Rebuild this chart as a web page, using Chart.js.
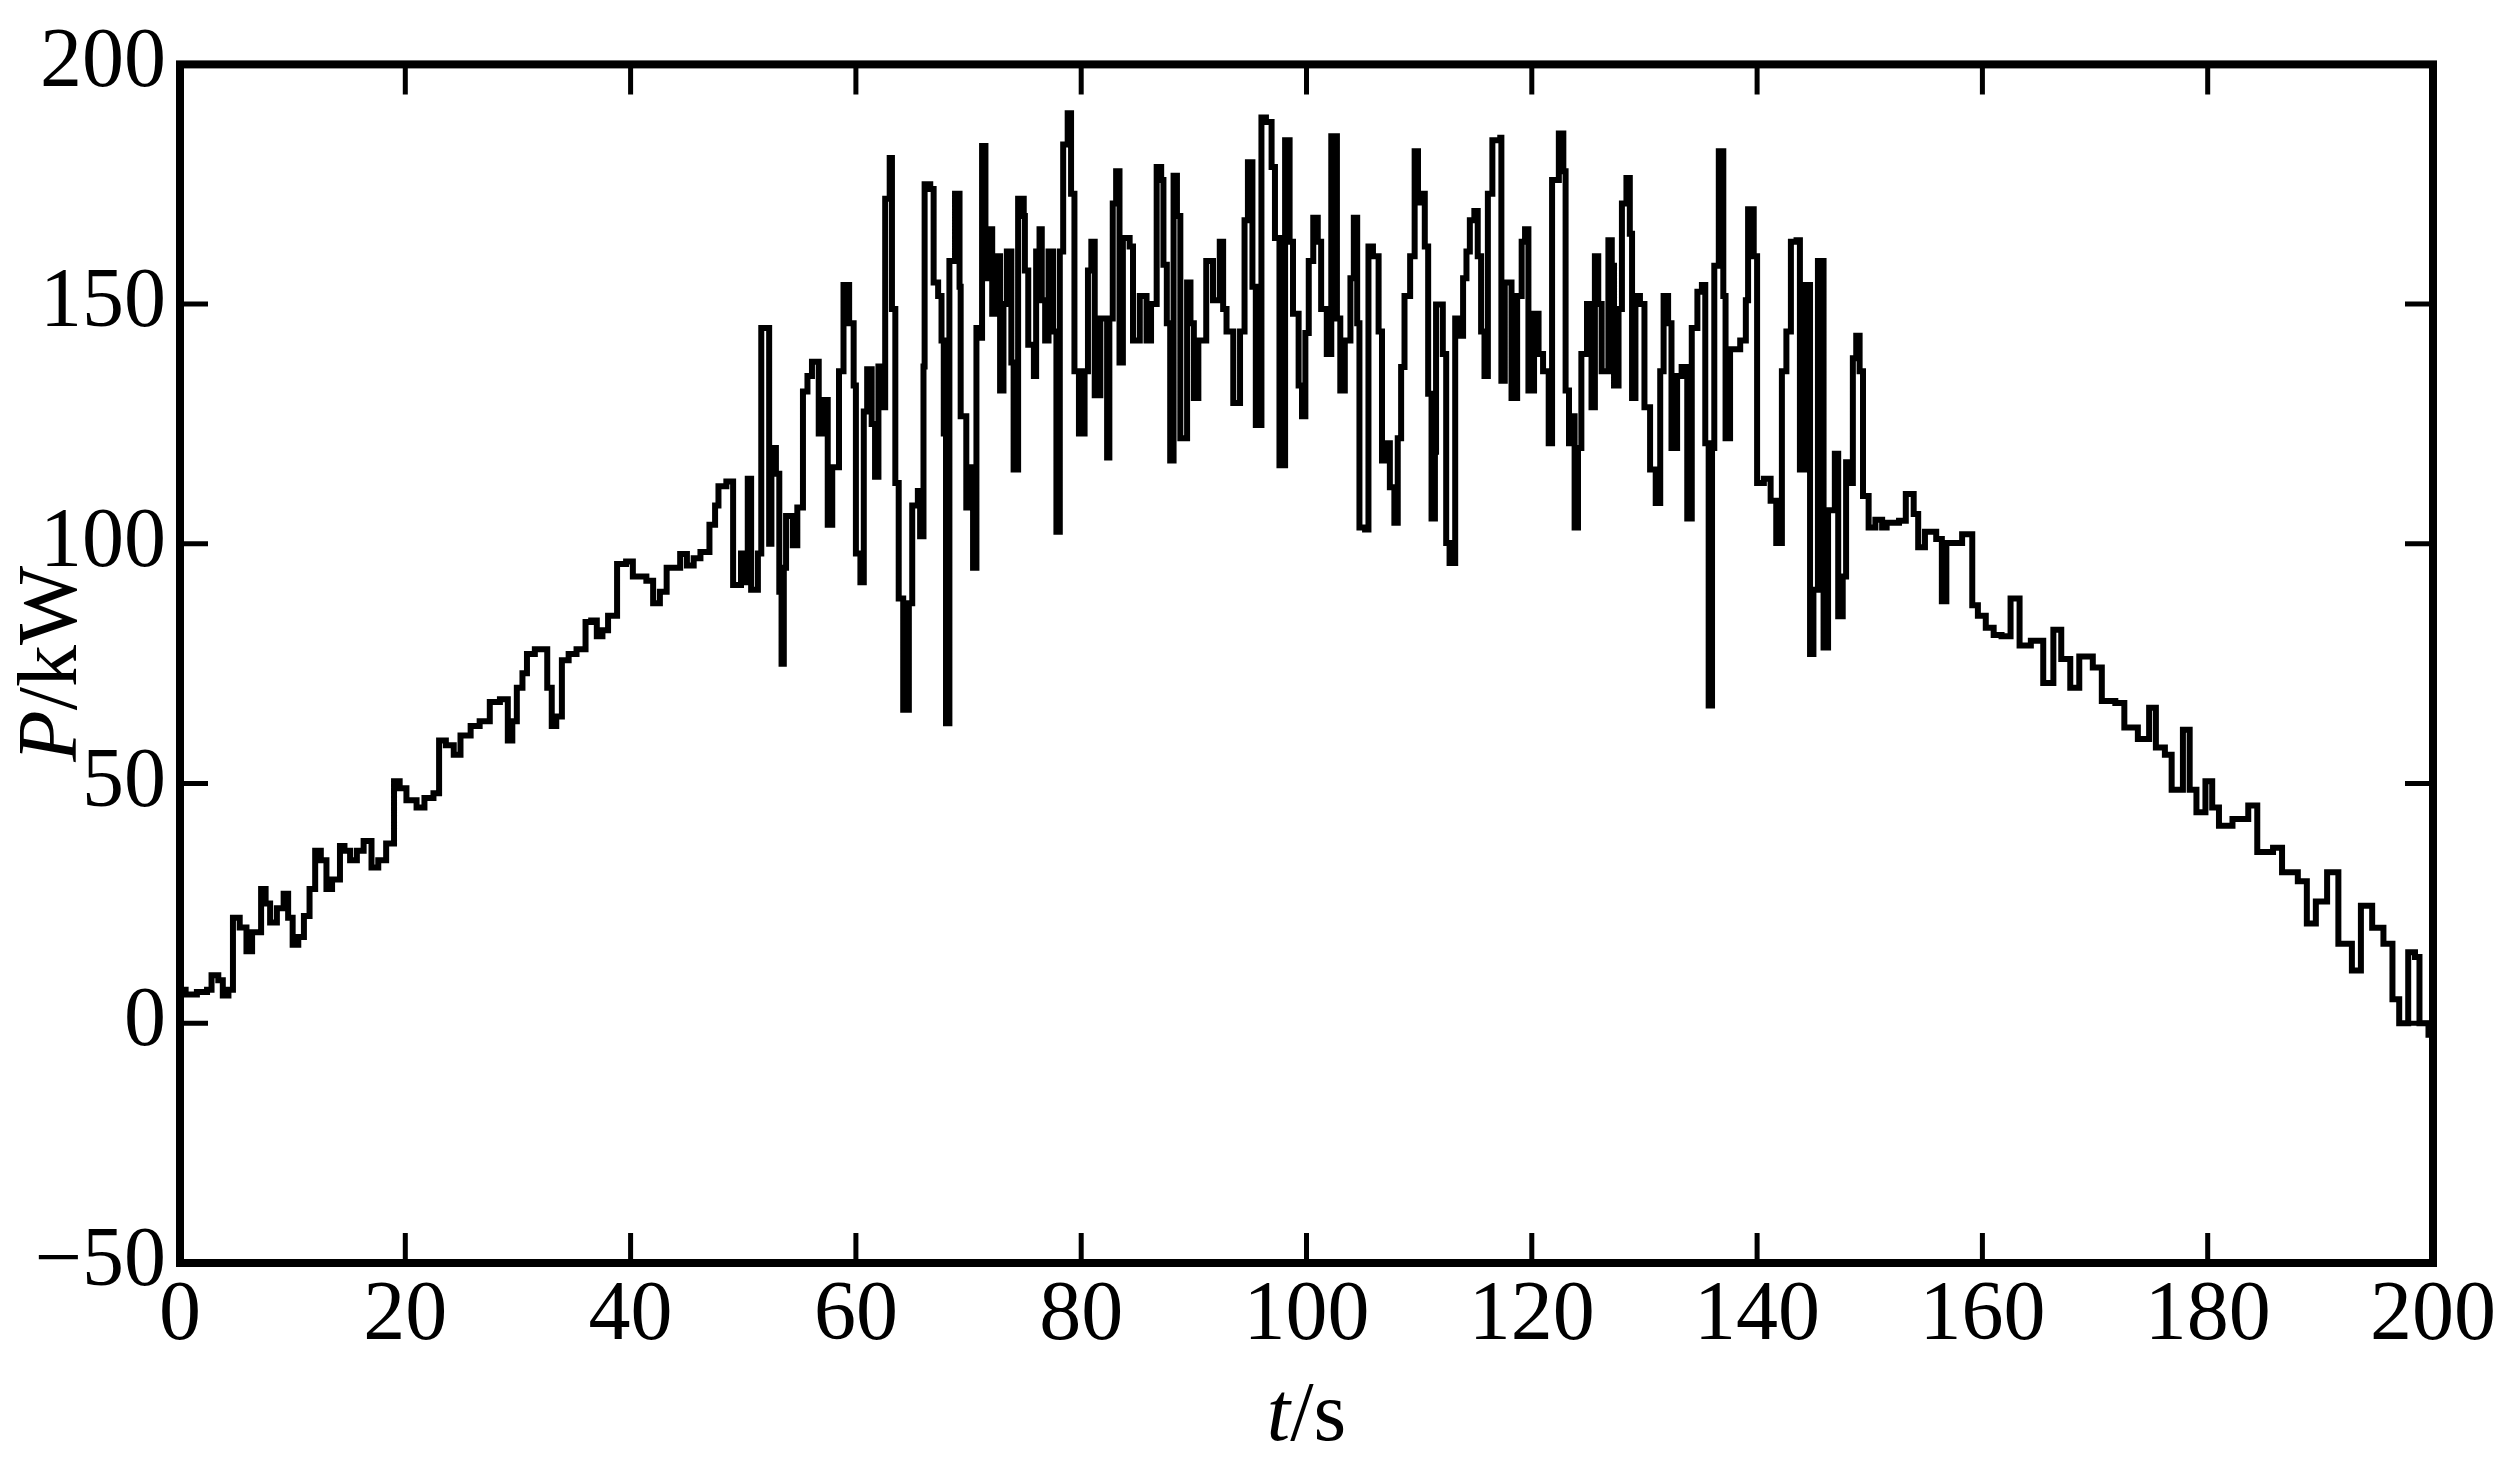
<!DOCTYPE html>
<html>
<head>
<meta charset="utf-8">
<script src="https://cdn.jsdelivr.net/npm/chart.js@4.4.1/dist/chart.umd.min.js"></script>
<style>
	body { margin: 0; background: #fff; }
	#wrap { width: 2520px; height: 1460px; }
</style>
</head>
<body>
<div id="wrap"><canvas id="graph"></canvas></div>
<script>
// time axis (s) and power (kW)
const timeS = [
	0, 0.5, 1.5, 2.4, 2.8, 3.4, 3.8, 4.3, 4.7, 5.3, 5.9, 6.4, 7.2, 7.6, 8, 8.6, 9.2, 9.6, 10, 10.5,
	11, 11.5, 12, 12.5, 13, 13.5, 14.2, 14.6, 15.1, 15.7, 16.3, 17, 17.6, 18.3, 19, 19.5, 20.1, 21, 21.7, 22.5,
	23, 23.6, 24.3, 24.9, 25.8, 26.6, 27.5, 28.4, 29.1, 29.5, 29.9, 30.4, 30.8, 31.5, 32.2, 32.6, 33, 33.4, 33.9, 34.5,
	35.2, 36, 36.5, 37, 37.5, 38, 38.8, 39.6, 40.2, 41.4, 42, 42.6, 43.2, 44.4, 45, 45.6, 46.2, 47, 47.5, 47.8,
	48.5, 49.1, 49.8, 50.1, 50.4, 50.7, 51.3, 51.6, 52.1, 52.3, 52.5, 52.9, 53.2, 53.4, 53.6, 53.8, 54.4, 54.8, 55.3, 55.7,
	56.1, 56.7, 57.1, 57.5, 57.9, 58.5, 58.9, 59.4, 59.8, 60, 60.4, 60.7, 61, 61.4, 61.7, 62, 62.4, 62.6, 63, 63.2,
	63.5, 63.8, 64.2, 64.7, 65, 65.5, 65.7, 66, 66.1, 66.6, 66.9, 67.3, 67.6, 67.8, 68, 68.3, 68.8, 69.2, 69.3, 69.8,
	70.1, 70.4, 70.7, 71, 71.2, 71.5, 71.9, 72.1, 72.5, 72.8, 73.1, 73.4, 73.8, 74, 74.4, 74.9, 75, 75.3, 75.8, 76,
	76.3, 76.5, 76.8, 77.1, 77.5, 77.8, 78.1, 78.4, 78.8, 79.1, 79.4, 79.8, 80.3, 80.6, 80.9, 81.2, 81.7, 82.3, 82.5, 82.8,
	83.1, 83.4, 83.7, 84.3, 84.6, 85.2, 85.8, 86.2, 86.7, 87.1, 87.3, 87.6, 87.9, 88.2, 88.5, 88.8, 89.4, 89.7, 90, 90.4,
	91.1, 91.7, 92.3, 92.6, 92.9, 93.5, 94.1, 94.5, 94.8, 95.2, 95.5, 96, 96.4, 96.9, 97.2, 97.6, 98.1, 98.5, 98.8, 99.3,
	99.6, 99.9, 100.2, 100.6, 101, 101.3, 101.8, 102.2, 102.7, 103, 103.4, 103.9, 104.2, 104.5, 104.7, 105.2, 105.5, 105.9, 106.4, 106.7,
	107.1, 107.4, 107.8, 108.1, 108.4, 108.7, 109.2, 109.6, 109.9, 110.2, 110.5, 110.8, 111.1, 111.4, 111.5, 112.1, 112.4, 112.7, 113.2, 113.6,
	113.9, 114.2, 114.5, 114.9, 115.2, 115.5, 115.8, 116.1, 116.5, 117.2, 117.3, 117.6, 118.2, 118.7, 119.1, 119.4, 119.7, 120.2, 120.6, 121,
	121.5, 121.8, 122.4, 122.8, 123, 123.3, 123.7, 123.8, 124.1, 124.4, 124.9, 125.3, 125.6, 125.9, 126.2, 126.8, 127.1, 127.3, 127.7, 128,
	128.4, 128.7, 128.9, 129.2, 129.6, 130, 130.5, 131, 131.4, 131.7, 132.1, 132.4, 132.9, 133.3, 133.8, 134.2, 134.7, 135.1, 135.4, 135.7,
	136, 136.2, 136.6, 137, 137.2, 137.6, 138.5, 139, 139.2, 139.7, 140, 140.6, 141.2, 141.7, 142.2, 142.6, 143, 143.5, 143.8, 144.2,
	144.7, 145, 145.4, 145.9, 146.3, 146.9, 147.2, 147.6, 147.9, 148.3, 148.5, 148.8, 149.1, 149.4, 149.9, 150.5, 151.1, 151.5, 152.6, 153.2,
	153.9, 154.3, 154.9, 155.9, 156.4, 156.8, 158.2, 159.1, 159.6, 160.3, 161, 161.7, 162.5, 163.3, 164.3, 165.4, 166.3, 167, 167.8, 168.6,
	169.8, 170.6, 171.8, 172.6, 173.8, 174.8, 175.4, 176.2, 176.8, 177.8, 178.4, 179, 179.8, 180.4, 181, 182.2, 183.6, 184.4, 185.8, 186.6,
	188, 188.8, 189.6, 190.6, 191.6, 192.8, 193.6, 194.6, 195.6, 196.4, 197, 197.8, 198.4, 198.8, 199.6, 200
];
const powerKW = [
	7, 6, 6.5, 7, 10, 9, 5.8, 7, 22, 20, 15, 19, 28, 25, 21, 24, 27, 22, 16.4, 18,
	22.4, 28, 36, 34, 28, 30, 37, 36, 34, 36, 38, 32.5, 34, 37.5, 50.5, 49, 46.5, 45, 47, 48,
	59, 58, 56, 60, 62, 63, 67, 67.6, 59, 63, 70, 73, 77, 78, 78, 70, 62, 64, 75.7, 77,
	78, 83.7, 84, 80.7, 82, 85, 95.8, 96.3, 93.2, 92.3, 87.6, 90, 95, 97.9, 95.5, 97, 98.3, 104, 108, 112,
	113, 91.4, 98, 92, 113.6, 90.4, 98, 145, 145, 100, 120, 114.6, 90, 75, 95, 105.8, 99.7, 107.6, 131.8, 135,
	138, 123, 130, 104, 116, 136, 154, 146, 133, 98, 92, 127.6, 136.4, 125, 114, 137, 128.5, 172, 180.5, 149,
	112.7, 88.6, 65.4, 87.6, 108, 111, 101.6, 137, 175, 174, 154.5, 151.7, 142.4, 123, 62.6, 159, 173, 153.6, 126.6, 107.6,
	116, 95, 145, 143, 183, 155.4, 165.6, 148, 160, 132, 150, 161, 137.8, 115.5, 172, 168.4, 157, 141.5, 135, 161,
	165.6, 150.8, 142.4, 161, 144.3, 102.5, 161, 183.3, 189.8, 173, 136, 123, 136, 157, 163, 131, 147, 118, 147, 171,
	177.7, 137.8, 163.8, 162, 142.4, 151.7, 142.4, 150, 178.6, 175.9, 158.2, 146, 117.4, 176.8, 168.4, 122, 154.5, 146, 130.4, 142.4,
	159, 150.8, 163, 149, 144.3, 129.4, 144.3, 167.5, 179.6, 153.6, 124.8, 188.9, 188, 178.6, 163.8, 116.4, 184.2, 163, 148, 133,
	126.6, 144, 159, 168, 163, 149, 139.6, 185, 147, 132, 142.4, 155.4, 168, 146, 103.4, 103, 162, 160, 144.3, 117.4,
	121, 111.8, 104.4, 122, 136.9, 151.7, 160, 181.9, 171.2, 173, 162, 131.3, 105.3, 119.2, 149.9, 139.6, 100.2, 96, 147, 143.4,
	155.4, 161, 167.5, 169.4, 160, 144.3, 135, 173, 184.2, 184.7, 134, 154.5, 130.4, 151.7, 163, 165.6, 132, 148, 139.6, 136,
	121, 175.9, 185.6, 177.7, 132, 121, 126.6, 103.4, 120, 139.6, 150, 128.5, 160, 150, 136, 163.3, 158, 133, 149, 171,
	176.3, 164.7, 130.4, 151.7, 150, 128.5, 115.5, 108.5, 136, 151.7, 146, 120, 135, 136.9, 105.3, 145, 152.6, 154, 121, 66.3,
	120, 158, 181.9, 151.7, 122, 140.6, 142.4, 150.8, 169.8, 160, 112.7, 113.6, 109, 100.2, 136, 144.3, 163, 163.3, 115.5, 154,
	77, 90.4, 159, 78.4, 107, 118.8, 84.9, 93.2, 117, 112.7, 138.7, 143.4, 136, 110, 103.4, 105, 103.4, 104.4, 104.8, 110.4,
	106.2, 99.3, 102.5, 101, 88, 100.2, 102, 87.2, 85, 82.5, 81, 80.7, 88.6, 78.8, 79.8, 71, 82.1, 76, 70, 76.5,
	74.2, 67.2, 66.8, 61.7, 59.3, 65.8, 57.5, 56, 48.7, 61.2, 48.7, 44, 50.5, 45, 41.2, 42.6, 45.4, 35.7, 36.6, 31.5,
	29.6, 20.8, 25.4, 31.5, 16.6, 11, 24.5, 19.9, 16.6, 5, 0, 14.8, 13.8, 0, -2.4, -5
];
const xTicks = [0, 20, 40, 60, 80, 100, 120, 140, 160, 180, 200];
const yTicks = [-50, 0, 50, 100, 150, 200];

const serif = '"Liberation Serif", "DejaVu Serif", serif';

// frame, inward ticks on all four sides and the axis titles
const frame = {
	id: "frame",
	afterDatasetsDraw(chart) {
		const { ctx, chartArea: a, scales } = chart;
		ctx.save();
		ctx.strokeStyle = "#000";
		ctx.lineWidth = 5;
		ctx.beginPath();
		xTicks.forEach((v) => {
			const px = scales.x.getPixelForValue(v);
			ctx.moveTo(px, a.bottom);
			ctx.lineTo(px, a.bottom - 30);
			ctx.moveTo(px, a.top);
			ctx.lineTo(px, a.top + 30);
		});
		yTicks.forEach((v) => {
			const py = scales.y.getPixelForValue(v);
			ctx.moveTo(a.left, py);
			ctx.lineTo(a.left + 28, py);
			ctx.moveTo(a.right, py);
			ctx.lineTo(a.right - 28, py);
		});
		ctx.stroke();
		ctx.lineWidth = 8;
		ctx.strokeRect(a.left, a.top, a.right - a.left, a.bottom - a.top);

		ctx.fillStyle = "#000";
		ctx.textBaseline = "alphabetic";
		const italic = "italic 84px " + serif;
		const roman = "84px " + serif;
		const drawTitle = (first, rest) => {
			ctx.font = italic;
			const w1 = ctx.measureText(first).width;
			ctx.font = roman;
			const w2 = ctx.measureText(rest).width;
			let x0 = -(w1 + w2) / 2;
			ctx.font = italic;
			ctx.fillText(first, x0, 0);
			ctx.font = roman;
			ctx.fillText(rest, x0 + w1, 0);
		};
		ctx.save();
		ctx.translate((a.left + a.right) / 2, 1440);
		drawTitle("t", "/s");
		ctx.restore();
		ctx.save();
		ctx.translate(76, (a.top + a.bottom) / 2);
		ctx.rotate(-Math.PI / 2);
		drawTitle("P", "/kW");
		ctx.restore();
		ctx.restore();
	},
};

new Chart(document.getElementById("graph"), {
	type: "line",
	data: {
		datasets: [
			{
				data: timeS.map((t, i) => ({ x: t, y: powerKW[i] })),
				borderColor: "#000",
				borderWidth: 6,
				pointRadius: 0,
				stepped: true,
				fill: false,
			},
		],
	},
	options: {
		responsive: true,
		maintainAspectRatio: false,
		animation: false,
		layout: { padding: { top: 61, right: 87, left: 0, bottom: 0 } },
		plugins: { legend: { display: false }, tooltip: { enabled: false } },
		scales: {
			x: {
				type: "linear",
				min: 0,
				max: 200,
				afterFit: (s) => { s.height = 197; },
				afterBuildTicks: (s) => { s.ticks = xTicks.map((v) => ({ value: v })); },
				grid: { display: false, drawTicks: false },
				border: { display: false },
				ticks: { color: "#000", padding: 4, maxRotation: 0, font: { family: serif, size: 84 } },
			},
			y: {
				min: -50,
				max: 200,
				afterFit: (s) => { s.width = 180; },
				afterBuildTicks: (s) => { s.ticks = yTicks.map((v) => ({ value: v })); },
				grid: { display: false, drawTicks: false },
				border: { display: false },
				ticks: {
					color: "#000",
					padding: 14,
					font: { family: serif, size: 84 },
					callback: (v) => (v < 0 ? "\u2212" + Math.abs(v) : String(v)),
				},
			},
		},
	},
	plugins: [frame],
});
</script>
</body>
</html>
